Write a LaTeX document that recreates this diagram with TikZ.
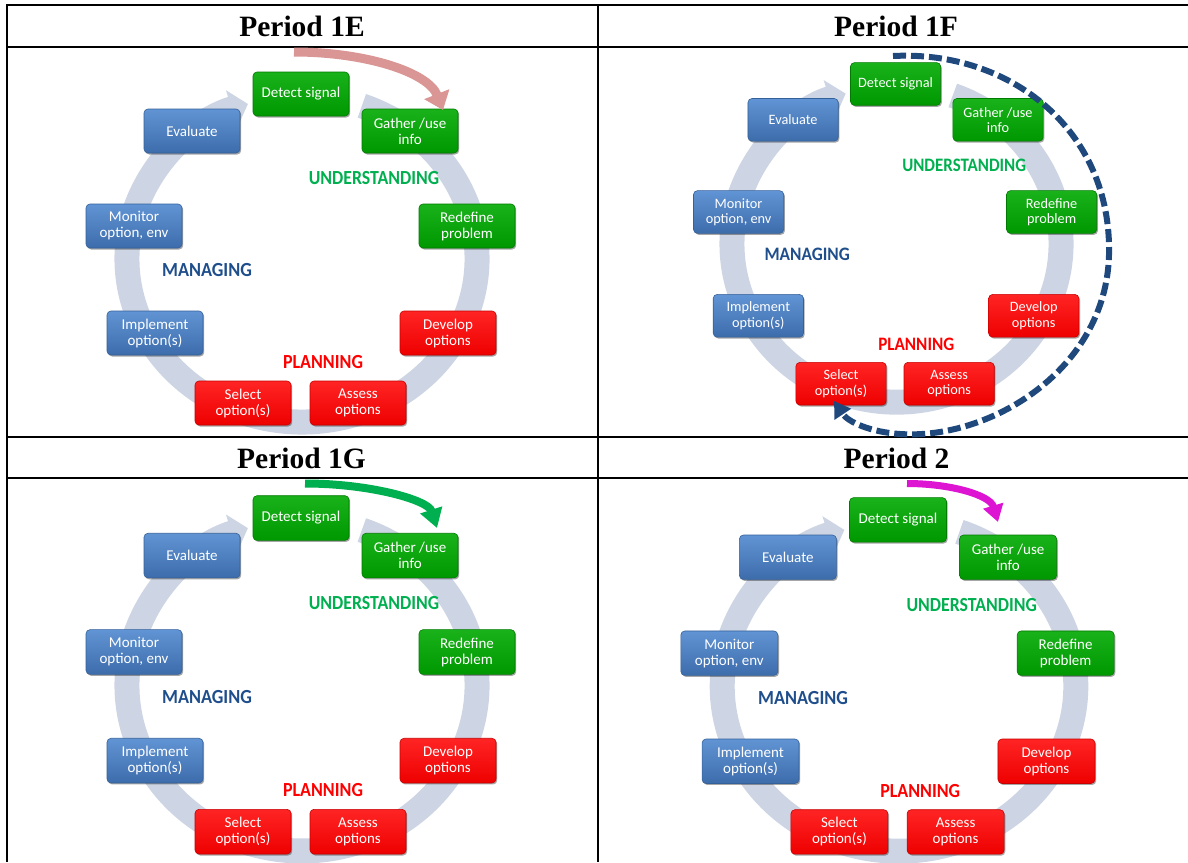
\documentclass[tikz,border=0pt]{standalone}
\usepackage{fontspec}
\usepackage{graphicx}
\setmainfont{Liberation Serif}
\newfontfamily\boxfont{Carlito}
\usetikzlibrary{arrows.meta,shadows}
\definecolor{ringc}{HTML}{CDD5E4}
\definecolor{gtop}{HTML}{1AB21A}
\definecolor{gbot}{HTML}{009800}
\definecolor{gdraw}{HTML}{007A00}
\definecolor{btop}{HTML}{6194D4}
\definecolor{bbot}{HTML}{3D6CAB}
\definecolor{bdraw}{HTML}{35619A}
\definecolor{rtop}{HTML}{FF2424}
\definecolor{rbot}{HTML}{EE0000}
\definecolor{rdraw}{HTML}{C80000}
\definecolor{undc}{HTML}{00B050}
\definecolor{manc}{HTML}{1F4E8C}
\definecolor{plac}{HTML}{FF0000}
\definecolor{pinkc}{HTML}{D99694}
\definecolor{greenc}{HTML}{00B050}
\definecolor{magc}{HTML}{DD14D2}
\definecolor{dashc}{HTML}{1F497D}
\tikzset{
  cellbox/.style={rounded corners=4pt, line width=0.6pt, text=white, align=center,
    inner sep=1pt, font=\boxfont\bxsize,
    drop shadow={shadow xshift=1.2pt, shadow yshift=-1.5pt, opacity=0.35, fill=black}},
  gbox/.style={cellbox, top color=gtop, bottom color=gbot, draw=gdraw},
  bbox/.style={cellbox, top color=btop, bottom color=bbot, draw=bdraw},
  rbox/.style={cellbox, top color=rtop, bottom color=rbot, draw=rdraw},
  ring/.style={draw=ringc, line width=25pt, -{Triangle[length=17pt,width=38pt]}},
  phase/.style={font=\boxfont\bfseries\lbsize, inner sep=0pt},
  hdr/.style={font=\bfseries\fontsize{29.5}{30}\selectfont, anchor=base, inner sep=0pt},
  tline/.style={line width=2pt, black},
}
% #1 prefix, #2 cx, #3 cy, #4 xscale, #5 yscale, #6 box font size, #7 label font size
\newcommand\cyc[7]{%
\begin{scope}[shift={(#2,#3)}, xscale=#4, yscale=#5]
  \def\bxsize{#6}\def\lbsize{#7}%
  \draw[ring] (-70:175 and 163) arc[start angle=-70, end angle=252, x radius=175, y radius=163];
  \node[gbox, minimum width=96pt*#4, minimum height=44pt*#5] (#1det) at (-1,-165) {Detect signal};
  \node[gbox, minimum width=96pt*#4, minimum height=44pt*#5] (#1gat) at (108,-128) {Gather /use\\info};
  \node[bbox, minimum width=96pt*#4, minimum height=44pt*#5] (#1eva) at (-110,-128) {Evaluate};
  \node[bbox, minimum width=96pt*#4, minimum height=44pt*#5] (#1mon) at (-168,-33) {Monitor\\option, env};
  \node[gbox, minimum width=96pt*#4, minimum height=44pt*#5] (#1red) at (165,-33) {Redefine\\problem};
  \node[bbox, minimum width=96pt*#4, minimum height=44pt*#5] (#1imp) at (-147,74) {Implement\\option(s)};
  \node[rbox, minimum width=96pt*#4, minimum height=44pt*#5] (#1dev) at (146,74) {Develop\\options};
  \node[rbox, minimum width=96pt*#4, minimum height=44pt*#5] (#1sel) at (-59,144) {Select\\option(s)};
  \node[rbox, minimum width=96pt*#4, minimum height=44pt*#5] (#1ass) at (56,144) {Assess\\options};
  \node[phase, text=undc] (#1und) at (72,-81) {\scalebox{0.89}[1]{UNDERSTANDING}};
  \node[phase, text=manc] (#1man) at (-95,11) {\scalebox{0.91}[1]{MANAGING}};
  \node[phase, text=plac] (#1pla) at (21,103) {\scalebox{0.9}[1]{PLANNING}};
\end{scope}}
\begin{document}
\begin{tikzpicture}[x=1pt, y=-1pt]
\useasboundingbox (0,0) rectangle (1188,862);
\fill[white] (0,0) rectangle (1188,862);
% table
\draw[tline] (7,5.3) -- (1188,5.3);
\draw[tline] (7,46.7) -- (1188,46.7);
\draw[tline] (7,436.7) -- (1188,436.7);
\draw[tline] (7,477.7) -- (1188,477.7);
\draw[tline] (7,4.3) -- (7,862);
\draw[tline] (598,4.3) -- (598,862);
\node[hdr] (h1) at (302,36) {Period 1E};
\node[hdr] (h2) at (896,36) {Period 1F};
\node[hdr] (h3) at (301.5,468) {Period 1G};
\node[hdr] (h4) at (896.5,468) {Period 2};
% cycles
\cyc{a}{302}{259}{1}{1}{\fontsize{15}{16}\selectfont}{\fontsize{20}{20}\selectfont}
\cyc{b}{896.5}{244}{0.94}{0.97}{\fontsize{14.3}{15.3}\selectfont}{\fontsize{19}{19}\selectfont}
\cyc{c}{302}{685.5}{1}{1.015}{\fontsize{15}{16}\selectfont}{\fontsize{20}{20}\selectfont}
\cyc{d}{899}{686.5}{1.01}{1.01}{\fontsize{15}{16}\selectfont}{\fontsize{20}{20}\selectfont}
% period arrows
\coordinate (pa1) at (294,52);
\coordinate (pa2) at (443,110);
\draw[pinkc, line width=9pt, -{Triangle[length=17pt,width=26pt]}] (pa1) .. controls (365,52) and (428,72) .. (pa2);
\coordinate (pc1) at (305,483.5);
\coordinate (pc2) at (437,528);
\draw[greenc, line width=8pt, -{Triangle[length=19pt,width=22pt]}] (pc1) .. controls (370,483.5) and (428,500) .. (pc2);
\coordinate (pd1) at (907,483.5);
\coordinate (pd2) at (998,522);
\draw[magc, line width=7pt, -{Triangle[length=17pt,width=20pt]}] (pd1) .. controls (950,483.5) and (990,495) .. (pd2);
\coordinate (pb1) at (893,56);
\coordinate (pb2) at (834,401);
\draw[dashc, line width=6pt, dash pattern=on 13pt off 5pt, -{Triangle[length=16pt,width=19pt]}]
  (pb1) .. controls (1010,50) and (1112,130) .. (1109,255)
  .. controls (1106,370) and (990,440) .. (900,434)
  .. controls (870,432) and (848,422) .. (pb2);
\end{tikzpicture}
\end{document}
